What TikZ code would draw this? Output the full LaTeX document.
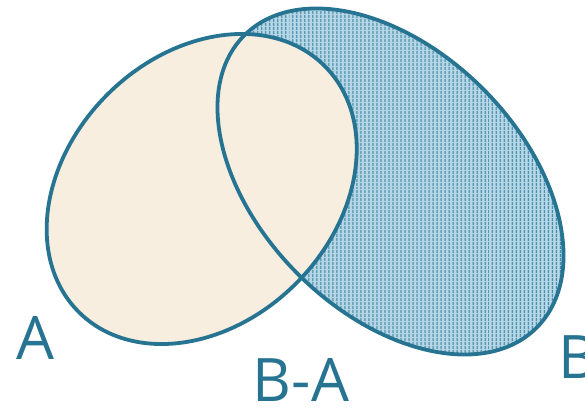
\documentclass[tikz,border=0pt]{standalone}
\usepackage{fontspec}
\setmainfont{Open Sans}
\usetikzlibrary{patterns.meta}
\definecolor{stroke}{RGB}{38,116,145}
\definecolor{beige}{RGB}{247,238,224}
\definecolor{hatchbase}{RGB}{185,215,229}
\definecolor{hatchline}{RGB}{60,138,172}
\tikzset{
  outline/.style={draw=stroke, line width=3.8pt},
  lbl/.style={text=stroke, font=\fontsize{60}{60}\selectfont, inner sep=0pt}
}
\begin{document}
\begin{tikzpicture}[x=1pt,y=1pt]
\useasboundingbox (0,0) rectangle (585,407);
% B filled with hatching
\fill[hatchbase, rotate around={-45:(390.5,225.5)}] (390.5,225.5) ellipse [x radius=206.7, y radius=130.9];
\fill[pattern={Lines[angle=90, distance=4pt, line width=1.6pt]}, pattern color=hatchline, rotate around={-45:(390.5,225.5)}] (390.5,225.5) ellipse [x radius=206.7, y radius=130.9];
% A filled beige
\fill[beige, rotate around={45:(201.7,218)}] (201.7,218) ellipse [x radius=173.9, y radius=133.5];
% outlines
\draw[outline, rotate around={-45:(390.5,225.5)}] (390.5,225.5) ellipse [x radius=206.7, y radius=130.9];
\draw[outline, rotate around={45:(201.7,218)}] (201.7,218) ellipse [x radius=173.9, y radius=133.5];
% labels
\node[lbl, anchor=base] (la) at (35,48) {A};
\node[lbl, anchor=base] (lba) at (301,6) {B-A};
\node[lbl, anchor=base west] (lb) at (558,29) {B};
\end{tikzpicture}
\end{document}
